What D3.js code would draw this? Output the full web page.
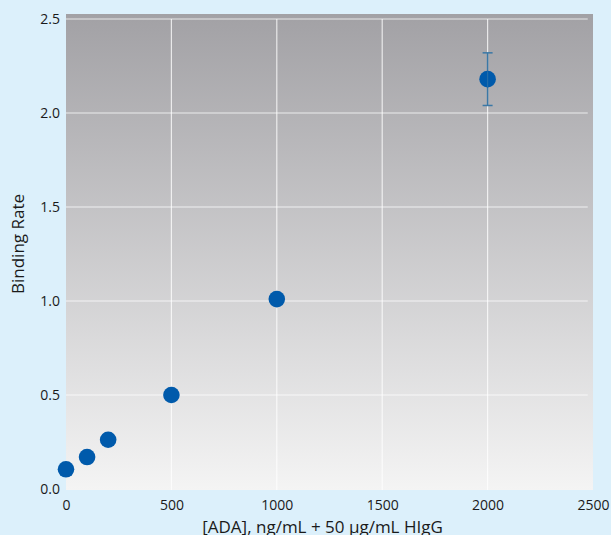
<!DOCTYPE html>
<html>
<head>
<meta charset="utf-8">
<script src="https://cdn.jsdelivr.net/npm/d3@7/dist/d3.min.js"></script>
<style>
  html, body { margin: 0; padding: 0; background: #dcf0fb; }
  svg { display: block; font-family: "Open Sans", "Noto Sans", sans-serif; }
</style>
</head>
<body>
<svg id="chart" width="611" height="535"></svg>
<script>
// ADA concentration (ng/mL) and measured binding rate
const concentrations = [0, 100, 200, 500, 1000, 2000];
const bindingRates   = [0.105, 0.17, 0.262, 0.50, 1.01, 2.18];
const errors         = [0, 0, 0, 0, 0, 0.14];
const xTicks = [0, 500, 1000, 1500, 2000, 2500];
const yTicks = [0.0, 0.5, 1.0, 1.5, 2.0, 2.5];

const svg = d3.select("#chart");
const plotLeft = 66, plotRight = 593, plotTop = 14, plotBottom = 490;

const x = d3.scaleLinear().domain([0, 2500]).range([plotLeft, plotRight]);
const y = d3.scaleLinear().domain([0, 2.5]).range([489, 19]);

// plot background gradient
const defs = svg.append("defs");
const grad = defs.append("linearGradient").attr("id", "bg")
  .attr("x1", 0).attr("y1", 0).attr("x2", 0).attr("y2", 1);
grad.append("stop").attr("offset", "0%").attr("stop-color", "#a2a1a5");
grad.append("stop").attr("offset", "100%").attr("stop-color", "#f4f4f4");

svg.append("rect")
  .attr("x", plotLeft).attr("y", plotTop)
  .attr("width", plotRight - plotLeft).attr("height", plotBottom - plotTop)
  .attr("fill", "url(#bg)");

// grid
const gridRight = x(2475);
svg.append("g").selectAll("line").data(yTicks.filter(d => d > 0)).join("line")
  .attr("x1", plotLeft).attr("x2", gridRight)
  .attr("y1", d => y(d)).attr("y2", d => y(d))
  .attr("stroke", "#ffffff").attr("stroke-opacity", 0.75).attr("stroke-width", 1.2);
svg.append("g").selectAll("line").data(xTicks.filter(d => d > 0 && d < 2500)).join("line")
  .attr("x1", d => x(d)).attr("x2", d => x(d))
  .attr("y1", y(2.5)).attr("y2", plotBottom)
  .attr("stroke", "#ffffff").attr("stroke-opacity", 0.75).attr("stroke-width", 1.2);

// axes (labels only)
const yAxis = d3.axisLeft(y).tickValues(yTicks).tickFormat(d3.format(".1f")).tickSize(0).tickPadding(6);
const gy = svg.append("g").attr("transform", `translate(${plotLeft},0)`).call(yAxis);
gy.select(".domain").remove();
gy.selectAll("text").attr("font-size", 14).attr("fill", "#1a1a1a")
  .attr("font-family", "'Open Sans', 'Noto Sans', sans-serif");

const xAxis = d3.axisBottom(x).tickValues(xTicks).tickFormat(d3.format("d")).tickSize(0).tickPadding(10);
const gx = svg.append("g").attr("transform", `translate(0,${plotBottom})`).call(xAxis);
gx.select(".domain").remove();
gx.selectAll("text").attr("font-size", 14).attr("fill", "#1a1a1a")
  .attr("font-family", "'Open Sans', 'Noto Sans', sans-serif");

// axis titles
svg.append("text")
  .attr("x", (plotLeft + plotRight) / 2 - 7).attr("y", 533)
  .attr("text-anchor", "middle").attr("font-size", 17).attr("fill", "#1a1a1a")
  .text("[ADA], ng/mL + 50 µg/mL HIgG");
svg.append("text")
  .attr("transform", `translate(24,244) rotate(-90)`)
  .attr("text-anchor", "middle").attr("font-size", 17).attr("fill", "#1a1a1a")
  .text("Binding Rate");

// data
const data = concentrations.map((c, i) => ({ c, v: bindingRates[i], e: errors[i] }));

const eb = svg.append("g").selectAll("g").data(data.filter(d => d.e > 0)).join("g")
  .attr("stroke", "#3b78a6").attr("stroke-width", 1.5);
eb.append("line")
  .attr("x1", d => x(d.c)).attr("x2", d => x(d.c))
  .attr("y1", d => y(d.v + d.e)).attr("y2", d => y(d.v - d.e));
eb.append("line")
  .attr("x1", d => x(d.c) - 5).attr("x2", d => x(d.c) + 5)
  .attr("y1", d => y(d.v + d.e)).attr("y2", d => y(d.v + d.e));
eb.append("line")
  .attr("x1", d => x(d.c) - 5).attr("x2", d => x(d.c) + 5)
  .attr("y1", d => y(d.v - d.e)).attr("y2", d => y(d.v - d.e));

svg.append("g").selectAll("circle").data(data).join("circle")
  .attr("cx", d => x(d.c)).attr("cy", d => y(d.v))
  .attr("r", 8.3).attr("fill", "#005aab");

// error bar line drawn over the marker
svg.append("g").selectAll("line").data(data.filter(d => d.e > 0)).join("line")
  .attr("x1", d => x(d.c)).attr("x2", d => x(d.c))
  .attr("y1", d => y(d.v) - 8).attr("y2", d => y(d.v) + 8)
  .attr("stroke", "#3b78a6").attr("stroke-opacity", 0.6).attr("stroke-width", 1.2);
</script>
</body>
</html>
